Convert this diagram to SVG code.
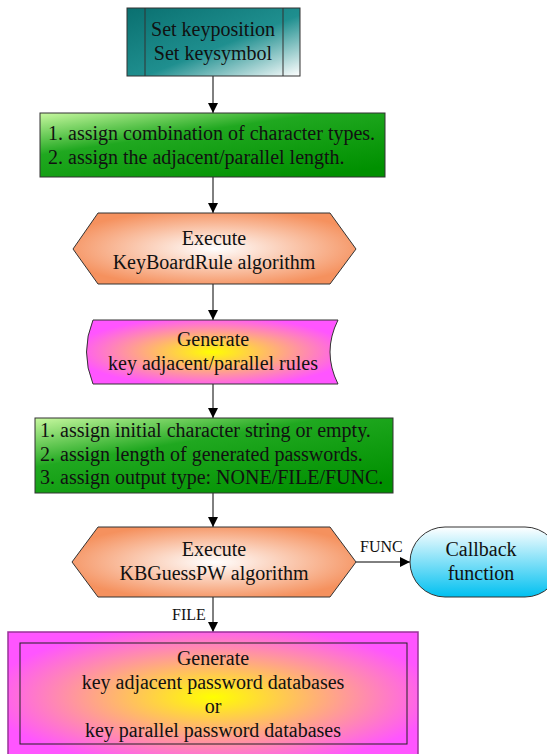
<svg xmlns="http://www.w3.org/2000/svg" width="547" height="754" viewBox="0 0 547 754">
<style>
text{font-family:"Liberation Serif","Times New Roman",serif;font-size:20px;fill:#111}
.c{text-anchor:middle}
.lbl{font-size:16px}
.edge{stroke:#000;stroke-width:1;fill:none;marker-end:url(#arr)}
.box{stroke:#333;stroke-width:1}
</style>
<defs>
<marker id="arr" viewBox="0 0 10 10" refX="10" refY="5" markerWidth="10" markerHeight="10" markerUnits="userSpaceOnUse" orient="auto">
<path d="M0,0 L10,5 L0,10 z" fill="#000"/>
</marker>
<linearGradient id="teal" x1="0" y1="0" x2="1" y2="1">
<stop offset="0" stop-color="#0a7070"/>
<stop offset="0.55" stop-color="#1f8f8f"/>
<stop offset="1" stop-color="#ffffff"/>
</linearGradient>
<linearGradient id="green" x1="0" y1="0" x2="0.8" y2="1">
<stop offset="0" stop-color="#c8f8a0"/>
<stop offset="0.4" stop-color="#20a820"/>
<stop offset="1" stop-color="#009000"/>
</linearGradient>
<radialGradient id="orange" cx="0.5" cy="0.5" r="0.55">
<stop offset="0" stop-color="#ffffff"/>
<stop offset="1" stop-color="#f5915e"/>
</radialGradient>
<radialGradient id="mag" cx="0.5" cy="0.5" r="0.55">
<stop offset="0" stop-color="#ffff00"/>
<stop offset="1" stop-color="#ff55ff"/>
</radialGradient>
<linearGradient id="blue" x1="0" y1="0" x2="0" y2="1">
<stop offset="0" stop-color="#ffffff"/>
<stop offset="1" stop-color="#00c0f0"/>
</linearGradient>
</defs>

<g id="edges">
<line class="edge" x1="213" y1="76" x2="213" y2="113"/>
<line class="edge" x1="213" y1="177" x2="213" y2="213"/>
<line class="edge" x1="213" y1="284" x2="213" y2="320"/>
<line class="edge" x1="213" y1="384" x2="213" y2="418"/>
<line class="edge" x1="213" y1="493" x2="213" y2="527"/>
<line class="edge" x1="356" y1="562" x2="410" y2="562"/>
<text class="lbl" x="360" y="552">FUNC</text>
<line class="edge" x1="213" y1="597" x2="213" y2="632"/>
<text class="lbl" x="172" y="620">FILE</text>
</g>

<g id="n1">
<rect class="box" x="127" y="8" width="173" height="68" fill="url(#teal)"/>
<line x1="145" y1="8" x2="145" y2="76" stroke="#333"/>
<line x1="283" y1="8" x2="283" y2="76" stroke="#333"/>
<text class="c" x="213" y="36">Set keyposition</text>
<text class="c" x="213" y="60">Set keysymbol</text>
</g>

<g id="n2">
<rect class="box" x="40" y="113" width="345" height="64" fill="url(#green)"/>
<text x="48" y="140">1. assign combination of character types.</text>
<text x="48" y="164">2. assign the adjacent/parallel length.</text>
</g>

<g id="n3">
<polygon class="box" points="73,249 98,213 330,213 356,249 330,284 98,284" fill="url(#orange)"/>
<text class="c" x="214" y="245">Execute</text>
<text class="c" x="214" y="269">KeyBoardRule algorithm</text>
</g>

<g id="n4">
<path class="box" d="M93,320 L338,320 Q322,352 338,384 L93,384 Q80,352 93,320 Z" fill="url(#mag)"/>
<text class="c" x="213" y="346">Generate</text>
<text class="c" x="213" y="370">key adjacent/parallel rules</text>
</g>

<g id="n5">
<rect class="box" x="35" y="418" width="358" height="75" fill="url(#green)"/>
<text x="40" y="437">1. assign initial character string or empty.</text>
<text x="40" y="461">2. assign length of generated passwords.</text>
<text x="40" y="484">3. assign output type: NONE/FILE/FUNC.</text>
</g>

<g id="n6">
<polygon class="box" points="72,562 98,527 330,527 356,562 330,597 98,597" fill="url(#orange)"/>
<text class="c" x="214" y="556">Execute</text>
<text class="c" x="214" y="580">KBGuessPW algorithm</text>
</g>

<g id="n7">
<rect class="box" x="410" y="527" width="150" height="70" rx="35" ry="35" fill="url(#blue)"/>
<text class="c" x="481" y="556">Callback</text>
<text class="c" x="481" y="580">function</text>
</g>

<g id="n8">
<rect x="8" y="632" width="410" height="130" fill="url(#mag)" stroke="#993399" stroke-width="1.5"/>
<rect x="20" y="643" width="387" height="101" fill="none" stroke="#222" stroke-width="1"/>
<text class="c" x="213" y="665">Generate</text>
<text class="c" x="213" y="689">key adjacent password databases</text>
<text class="c" x="213" y="713">or</text>
<text class="c" x="213" y="737">key parallel password databases</text>
</g>
</svg>
